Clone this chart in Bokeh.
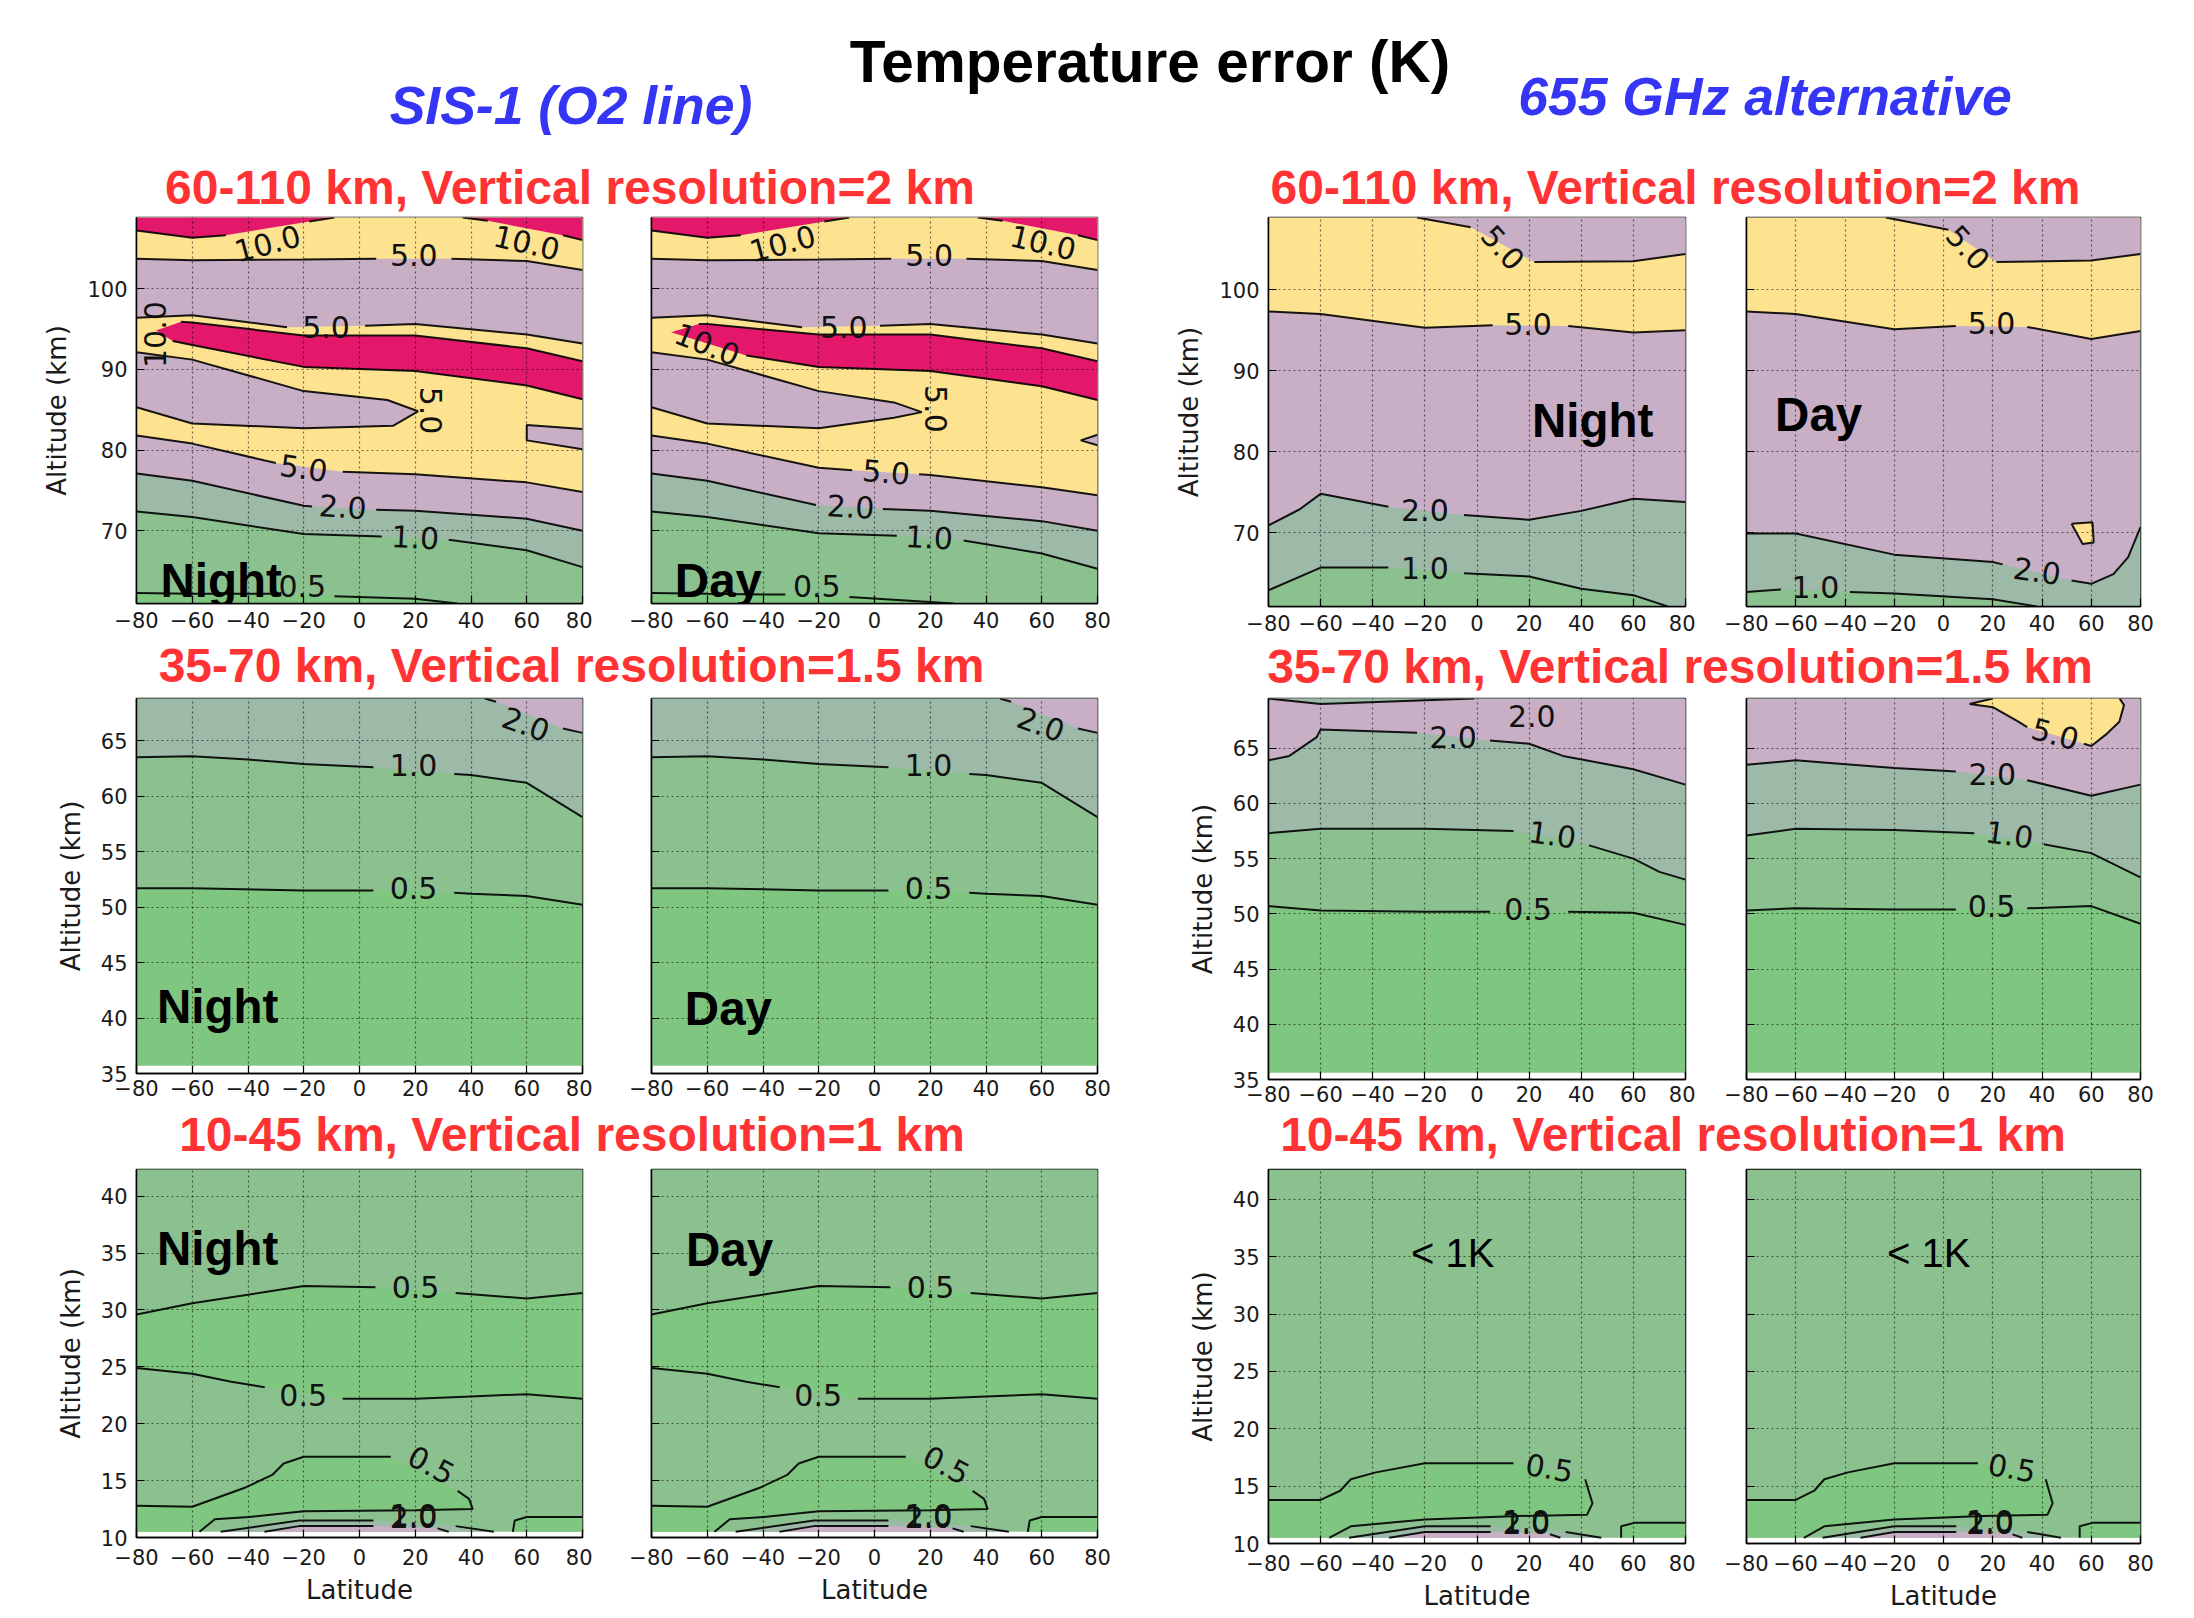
import math
import numpy as np
from bokeh.plotting import figure
from bokeh.layouts import row, column
from bokeh.models import Div, Range1d, FixedTicker
from bokeh.core.properties import value
from bokeh.embed import file_html
from bokeh.resources import INLINE

N = None

# ---------------- band colours (temperature error, K) ----------------
C_LT05 = "#7fc680"   # < 0.5
C_05_1 = "#8bc18f"   # 0.5 - 1
C_1_2 = "#9db9a8"    # 1 - 2
C_2_5 = "#c8afc6"    # 2 - 5
C_5_10 = "#fde38f"   # 5 - 10
C_GT10 = "#e3186a"   # > 10

LAT_TICKS = [-80, -60, -40, -20, 0, 20, 40, 60, 80]
ALT_TICKS_HI = [70, 80, 90, 100]
ALT_TICKS_MID = [35, 40, 45, 50, 55, 60, 65]
ALT_TICKS_LO = [10, 15, 20, 25, 30, 35, 40]

# ---------------- contour lines: (latitudes, altitudes); None = label gap ----------------
# SIS-1, 60-110 km (shared by night & day)
S1_A1 = ([-80, -60, -48, N, -18, -9], [107.2, 106.3, 106.6, N, 108.3, 108.8])
S1_A2 = ([37, 46, N, 73, 80], [108.8, 108.4, N, 106.6, 106.0])
S1_B = ([-80, -60, -20, 6, N, 33, 60, 80], [103.7, 103.5, 103.6, 103.7, N, 103.7, 103.4, 102.3])
S1_C = ([-80, -60, -26, N, 2, 20, 60, 80], [96.4, 96.7, 95.2, N, 95.4, 95.6, 94.3, 93.2])
# SIS-1, 60-110 km, night
S1N_BAND = ([80, 60, 20, -20, -60, -64, N, -73, N, -67, -60, -20, 20, 60, 80],
            [91.0, 92.6, 94.2, 94.2, 95.8, 95.9, N, 94.8, N, 93.5, 93.0, 90.3, 89.8, 88.0, 86.3])
S1N_TONGUE = ([-80, -60, -20, 10, 21, 12, -20, -60, -80], [92.1, 91.2, 87.3, 86.2, 84.8, 83.0, 82.7, 83.3, 85.3])
S1N_WEDGE = ([80, 60, 60, 80], [82.6, 83.1, 81.2, 80.1])
S1N_F = ([-80, -60, -30, N, -6, 20, 60, 80], [81.8, 80.8, 78.4, N, 77.3, 77.0, 76.0, 74.8])
S1N_G = ([-80, -60, -20, -17, N, 6, 20, 60, 80], [77.1, 76.2, 73.1, 73.0, N, 72.6, 72.5, 71.5, 70.0])
S1N_H = ([-80, -60, -20, 8, N, 32, 60, 80], [72.4, 71.7, 69.6, 69.3, N, 68.9, 67.6, 65.5])
S1N_I = ([-80, -60, -32, N, -9, 20, 35], [62.3, 62.2, 62.2, N, 61.9, 61.6, 61.0])
S1N_LABELS = [("10.0", -33, 105.6, 15), ("10.0", 60, 105.7, -13), ("5.0", 19.5, 104.1, 0),
              ("5.0", -12, 95.2, 0), ("10.0", -73.4, 94.3, 90), ("5.0", 25.5, 84.9, -90),
              ("5.0", -20, 77.8, -8), ("2.0", -6, 73.0, -4), ("1.0", 20, 69.2, -3), ("0.5", -20.5, 63.2, 0)]
# SIS-1, 60-110 km, day
S1D_BAND = ([80, 60, 20, -20, -60, -63, N, -73, N, -46, -20, 20, 60, 80],
            [91.0, 92.6, 94.3, 94.3, 95.6, 95.6, N, 94.6, N, 91.7, 90.3, 89.8, 87.9, 86.2])
S1D_TONGUE = ([-80, -60, -20, 7, 17, 7, -20, -60, -80], [92.1, 91.2, 87.3, 85.9, 84.7, 84.0, 82.7, 83.3, 85.3])
S1D_WEDGE = ([80, 74, 80], [81.9, 81.2, 80.6])
S1D_F = ([-80, -60, -20, -8, N, 16, 20, 60, 80], [81.8, 80.8, 77.8, 77.5, N, 77.0, 76.9, 75.4, 74.4])
S1D_G = ([-80, -60, -21, N, 3, 20, 60, 80], [77.1, 76.2, 73.2, N, 72.7, 72.5, 71.2, 70.0])
S1D_H = ([-80, -60, -20, 8, N, 32, 60, 80], [72.4, 71.7, 69.7, 69.4, N, 68.8, 67.2, 65.3])
S1D_I = ([-80, -60, -32, N, -9, 28.5], [62.3, 62.2, 62.1, N, 61.8, 61.0])
S1D_LABELS = [("10.0", -33, 105.6, 15), ("10.0", 60.5, 105.7, -13), ("5.0", 19.6, 104.1, 0),
              ("5.0", -11, 95.2, 0), ("10.0", -60, 93.1, -22), ("5.0", 22, 85.1, -90),
              ("5.0", 4.2, 77.3, -5), ("2.0", -8.6, 73.0, -3), ("1.0", 19.6, 69.2, -3), ("0.5", -20.7, 63.2, 0)]

# 655 GHz, 60-110 km, night
G1N_L1 = ([-80, -60, -34, N, -5, 20, 40, 60, 73.2], [62.9, 65.7, 65.7, N, 65.0, 64.6, 63.1, 62.3, 60.9])
G1N_L2 = ([-80, -68, -60, -34, N, -5, 20, 40, 60, 80], [70.9, 72.9, 74.8, 73.2, N, 72.2, 71.6, 72.7, 74.2, 73.8])
G1N_L3 = ([-80, -60, -20, 6, N, 35, 60, 80], [97.3, 97.0, 95.3, 95.6, N, 95.5, 94.7, 95.0])
G1N_L4 = ([-23, -2.4, N, 22, 60, 80], [108.9, 107.7, N, 103.4, 103.5, 104.4])
G1N_LABELS = [("1.0", -20, 65.7, 0), ("2.0", -20, 72.8, 0), ("5.0", 19.6, 95.8, 0), ("5.0", 10, 105.2, -48)]
# 655 GHz, 60-110 km, day
G1D_L1 = ([-80, -66, N, -38, -20, 20, 38], [62.7, 63.0, N, 62.7, 62.5, 61.8, 60.9])
G1D_L2 = ([-80, -60, -20, 20, 24, N, 52, 60, 69, 75, 80], [69.9, 69.9, 67.3, 66.4, 66.1, N, 64.1, 63.7, 64.9, 67.0, 70.7])
G1D_PATCH = ([52, 60.5, 61, 56.5, 52], [71.1, 71.3, 68.8, 68.6, 71.1])
G1D_L3 = ([-80, -60, -20, 5, N, 34, 60, 80], [97.3, 97.0, 95.1, 95.5, N, 95.4, 93.9, 94.9])
G1D_L4 = ([-23.4, 2, N, 21.5, 60, 80], [108.9, 107.4, N, 103.4, 103.6, 104.4])
G1D_LABELS = [("1.0", -52, 63.3, 0), ("2.0", 38, 65.3, -8), ("5.0", 19.5, 95.9, 0), ("5.0", 10, 105.2, -48)]

# SIS-1, 35-70 km (night & day)
S2_05 = ([-80, -60, -20, 5, N, 34, 40, 60, 80], [51.7, 51.7, 51.5, 51.5, N, 51.3, 51.2, 51.0, 50.2])
S2_10 = ([-80, -60, -40, -20, 5, N, 34, 40, 60, 80], [63.5, 63.6, 63.3, 62.9, 62.6, N, 62.0, 61.9, 61.2, 58.1])
S2_20 = ([45, 49, N, 73, 80], [68.8, 68.5, N, 66.1, 65.7])
S2_LABELS = [("0.5", 19.4, 51.7, 0), ("1.0", 19.4, 62.8, 0), ("2.0", 59.7, 66.5, -20)]

# 655 GHz, 35-70 km, night
G2N_05 = ([-80, -60, -20, 5, N, 35, 60, 80], [50.7, 50.3, 50.2, 50.2, N, 50.2, 50.1, 49.0])
G2N_10 = ([-80, -60, -20, 14, N, 43, 60, 70, 80], [57.3, 57.7, 57.7, 57.5, N, 56.2, 55.0, 53.8, 53.1])
G2N_20 = ([-80, -72, -61.5, -60, -23, N, 5, 20, 33, 60, 80], [63.9, 64.3, 66.0, 66.7, 66.4, N, 65.7, 65.4, 64.3, 63.1, 61.7])
G2N_TOP = ([-80, -60, -1], [69.5, 69.0, 69.5])
G2N_LABELS = [("0.5", 19.6, 50.4, 0), ("1.0", 28.9, 57.2, -8), ("2.0", -9.2, 66.0, 0), ("2.0", 21, 67.9, 0)]
# 655 GHz, 35-70 km, day
G2D_05 = ([-80, -60, -20, 5, N, 34, 60, 80], [50.3, 50.5, 50.4, 50.4, N, 50.5, 50.7, 49.1])
G2D_10 = ([-80, -60, -20, 12.5, N, 40.7, 60, 80], [57.1, 57.7, 57.6, 57.3, N, 56.3, 55.5, 53.3])
G2D_20 = ([-80, -60, -20, 5, N, 34, 60, 80], [63.5, 63.9, 63.2, 62.9, N, 62.1, 60.7, 61.7])
G2D_BLOB = ([20, 10.6, 20.2, 30.4, 34, N, 57, 60, 66.3, 71.4, 73.3, 71.5],
            [69.5, 69.0, 68.7, 67.4, 66.9, N, 65.4, 65.2, 66.3, 67.4, 68.9, 69.5])
G2D_LABELS = [("0.5", 19.5, 50.7, 0), ("1.0", 26.8, 57.2, -8), ("2.0", 19.8, 62.7, 0), ("5.0", 45.4, 66.3, -15)]

# SIS-1, 10-45 km (night & day)
S3_U05 = ([-80, -60, -20, 5.7, N, 34.5, 60, 80], [29.6, 30.6, 32.1, 32.0, N, 31.5, 31.0, 31.5])
S3_M05 = ([-80, -60, -46, -34, N, -6, 20, 40, 60, 80], [24.9, 24.4, 23.7, 23.2, N, 22.2, 22.2, 22.4, 22.6, 22.2])
S3_L05 = ([-80, -60, -40.9, -31.3, -27.2, -20, 11.2, N, 35.2, 39.3, 40.6, 20, -20, -39.6, -51.9, -57.4],
          [12.8, 12.7, 14.4, 15.5, 16.5, 17.1, 17.1, N, 14.1, 13.4, 12.5, 12.4, 12.3, 11.8, 11.6, 10.5])
S3_R05 = ([55, 55.7, 60, 80], [10.5, 11.5, 11.8, 11.8])
S3_10 = ([-49.8, -21.7, 5, N, 34.5, 48.2], [10.5, 11.5, 11.5, N, 11.0, 10.5])
S3_20 = ([-34.1, -21.7, 5, N, 28, 32], [10.5, 11.0, 11.0, N, 10.8, 10.5])
S3_LABELS = [("0.5", 20.1, 32.0, 0), ("0.5", -20.2, 22.5, 0), ("0.5", 25.8, 16.4, -28),
             ("1.0", 19.4, 12.0, 0), ("2.0", 19.4, 11.8, 0)]

# 655 GHz, 10-45 km (night & day)
G3_L05 = ([-80, -60, -52.5, -48.4, -38.8, -20, 14, N, 41.5, 44.3, 42.2, 16, -20, -48.4, -56.7],
          [13.8, 13.8, 14.6, 15.6, 16.2, 17.0, 17.0, N, 15.6, 13.5, 12.5, 12.4, 12.1, 11.5, 10.5])
G3_R05 = ([55.3, 55.3, 60.4, 80], [10.5, 11.5, 11.8, 11.8])
G3_10 = ([-49.1, -20, 5.2, N, 34, 47.7], [10.5, 11.5, 11.5, N, 11.0, 10.5])
G3_20 = ([-33.7, -20, 5.2, N, 28, 32], [10.5, 11.0, 11.0, N, 10.8, 10.5])
G3_LABELS = [("0.5", 27.8, 16.6, -10), ("1.0", 18.9, 12.0, 0), ("2.0", 18.9, 11.8, 0)]

# ---------------- panel assembly ----------------
S1_FILLS_N = [(C_LT05, S1N_I, "down", []), (C_1_2, S1N_H, "up", []), (C_2_5, S1N_G, "up", []),
              (C_5_10, S1N_F, "up", []), (C_2_5, S1N_WEDGE, "closed", []), (C_2_5, S1N_TONGUE, "closed", []),
              (C_GT10, S1N_BAND, "closed", []), (C_2_5, S1_C, "up", []), (C_5_10, S1_B, "up", []),
              (C_GT10, S1_A1, "up", []), (C_GT10, S1_A2, "up", [])]
S1_FILLS_D = [(C_LT05, S1D_I, "down", []), (C_1_2, S1D_H, "up", []), (C_2_5, S1D_G, "up", []),
              (C_5_10, S1D_F, "up", []), (C_2_5, S1D_WEDGE, "closed", []), (C_2_5, S1D_TONGUE, "closed", []),
              (C_GT10, S1D_BAND, "closed", []), (C_2_5, S1_C, "up", []), (C_5_10, S1_B, "up", []),
              (C_GT10, S1_A1, "up", []), (C_GT10, S1_A2, "up", [])]
G1_FILLS_N = [(C_1_2, G1N_L1, "up", [(80, 60.9)]), (C_2_5, G1N_L2, "up", []),
              (C_5_10, G1N_L3, "up", []), (C_2_5, G1N_L4, "up", [])]
G1_FILLS_D = [(C_1_2, G1D_L1, "up", [(80, 60.9)]), (C_2_5, G1D_L2, "up", []), (C_5_10, G1D_PATCH, "closed", []),
              (C_5_10, G1D_L3, "up", []), (C_2_5, G1D_L4, "up", [])]
S2_FILLS = [(C_05_1, S2_05, "up", []), (C_1_2, S2_10, "up", []), (C_2_5, S2_20, "up", [])]
G2_FILLS_N = [(C_05_1, G2N_05, "up", []), (C_1_2, G2N_10, "up", []), (C_2_5, G2N_20, "up", []),
              (C_1_2, G2N_TOP, "closed", [])]
G2_FILLS_D = [(C_05_1, G2D_05, "up", []), (C_1_2, G2D_10, "up", []), (C_2_5, G2D_20, "up", []),
              (C_5_10, G2D_BLOB, "closed", [])]
S3_FILLS = [(C_LT05, S3_M05, "up", []), (C_05_1, S3_U05, "up", []), (C_LT05, S3_L05, "closed", [(-80, 10.5)]),
            (C_LT05, S3_R05, "closed", [(80, 10.5)]), (C_1_2, S3_10, "closed", []), (C_2_5, S3_20, "closed", [])]
G3_FILLS = [(C_LT05, G3_L05, "closed", [(-80, 10.5)]), (C_LT05, G3_R05, "closed", [(80, 10.5)]),
            (C_1_2, G3_10, "closed", []), (C_2_5, G3_20, "closed", [])]

# geometry: frame_w, frame_h, border left, right, top, bottom, x-label standoff
GEO = {
    "r1": [(446, 386, 128, 10, 1, 36, 8), (446, 386, 59, 20, 1, 36, 8),
           (417, 389, 151, 10, 1, 33, 8), (394, 389, 51, 38, 1, 33, 8)],
    "r2": [(446, 375, 128, 10, 3, 35, 6), (446, 375, 59, 20, 3, 35, 6),
           (417, 381, 151, 10, 1, 31, 6), (394, 381, 51, 38, 1, 31, 6)],
    "r3": [(446, 368, 128, 10, 7, 74, 11), (446, 368, 59, 20, 7, 74, 11),
           (417, 374, 151, 10, 1, 74, 11), (394, 374, 51, 38, 1, 74, 11)],
}

PANELS = {
    "r1": [
        dict(yr=(61.0, 108.8), bot=61.0, base=C_05_1, fills=S1_FILLS_N, labels=S1N_LABELS,
             note=("Night", -49.6, 63.9, True), yt=ALT_TICKS_HI, ylab=True, xlab=False),
        dict(yr=(61.0, 108.8), bot=61.0, base=C_05_1, fills=S1_FILLS_D, labels=S1D_LABELS,
             note=("Day", -56, 63.9, True), yt=ALT_TICKS_HI, ylab=False, xlab=False),
        dict(yr=(60.9, 108.9), bot=60.9, base=C_05_1, fills=G1_FILLS_N, labels=G1N_LABELS,
             note=("Night", 44.4, 83.9, True), yt=ALT_TICKS_HI, ylab=True, xlab=False),
        dict(yr=(60.9, 108.9), bot=60.9, base=C_05_1, fills=G1_FILLS_D, labels=G1D_LABELS,
             note=("Day", -50.7, 84.6, True), yt=ALT_TICKS_HI, ylab=False, xlab=False),
    ],
    "r2": [
        dict(yr=(35.0, 68.8), bot=35.7, base=C_LT05, fills=S2_FILLS, labels=S2_LABELS,
             note=("Night", -50.9, 41.0, True), yt=ALT_TICKS_MID, ylab=True, xlab=False),
        dict(yr=(35.0, 68.8), bot=35.7, base=C_LT05, fills=S2_FILLS, labels=S2_LABELS,
             note=("Day", -52.4, 40.9, True), yt=ALT_TICKS_MID, ylab=False, xlab=False),
        dict(yr=(35.0, 69.5), bot=35.6, base=C_LT05, fills=G2_FILLS_N, labels=G2N_LABELS,
             note=None, yt=ALT_TICKS_MID, ylab=True, xlab=False),
        dict(yr=(35.0, 69.5), bot=35.6, base=C_LT05, fills=G2_FILLS_D, labels=G2D_LABELS,
             note=None, yt=ALT_TICKS_MID, ylab=False, xlab=False),
    ],
    "r3": [
        dict(yr=(10.0, 42.35), bot=10.5, base=C_05_1, fills=S3_FILLS, labels=S3_LABELS,
             note=("Night", -50.9, 35.4, True), yt=ALT_TICKS_LO, ylab=True, xlab=True),
        dict(yr=(10.0, 42.35), bot=10.5, base=C_05_1, fills=S3_FILLS, labels=S3_LABELS,
             note=("Day", -52, 35.3, True), yt=ALT_TICKS_LO, ylab=False, xlab=True),
        dict(yr=(10.0, 42.6), bot=10.5, base=C_05_1, fills=G3_FILLS, labels=G3_LABELS,
             note=("< 1K", -9.3, 35.3, False), yt=ALT_TICKS_LO, ylab=True, xlab=True),
        dict(yr=(10.0, 42.6), bot=10.5, base=C_05_1, fills=G3_FILLS, labels=G3_LABELS,
             note=("< 1K", -6, 35.35, False), yt=ALT_TICKS_LO, ylab=False, xlab=True),
    ],
}


def make_panel(spec, geom):
    fw, fh, bl, br, bt, bb, xso = geom
    lo, hi = spec["yr"]
    p = figure(width=bl + fw + br, height=bt + fh + bb, frame_width=fw, frame_height=fh,
               min_border_left=bl, min_border_right=br, min_border_top=bt, min_border_bottom=bb,
               x_range=Range1d(-80, 80), y_range=Range1d(lo, hi),
               output_backend="svg", toolbar_location=None, tools="")
    p.background_fill_color = "white"
    p.border_fill_color = "white"
    p.outline_line_color = "black"
    p.outline_line_width = 1.5
    bot = spec["bot"]
    p.patch([-80, 80, 80, -80], [bot, bot, hi, hi], fill_color=spec["base"], line_color=None)
    for color, ln, mode, pre in spec["fills"]:
        xs = [x for x in ln[0] if x is not None] + [q[0] for q in pre]
        ys = [y for y in ln[1] if y is not None] + [q[1] for q in pre]
        if mode == "up":
            xs += [xs[-1], xs[0]]
            ys += [hi, hi]
        elif mode == "down":
            xs += [xs[-1], xs[0]]
            ys += [bot, bot]
        p.patch(xs, ys, fill_color=color, line_color=None)
    for color, ln, mode, pre in spec["fills"]:
        p.line(np.array(ln[0], dtype=float), np.array(ln[1], dtype=float),
               line_color="black", line_width=2, line_alpha=0.9)
    if spec["labels"]:
        t, x, y, a = zip(*spec["labels"])
        p.text(x=list(x), y=list(y), text=list(t), angle=[float(np.deg2rad(v)) for v in a],
               text_align="center", text_baseline="middle", text_font=value("DejaVu Sans"),
               text_font_size="30px", text_color="#111111")
    if spec["note"]:
        nt, nx, ny, bold = spec["note"]
        p.text(x=[nx], y=[ny], text=[nt], text_align="center", text_baseline="alphabetic",
               text_font=value("Liberation Sans"), text_font_style="bold" if bold else "normal",
               text_font_size="47.5px" if bold else "40px", text_color="black")

    p.xaxis.ticker = FixedTicker(ticks=LAT_TICKS)
    p.xgrid.ticker = FixedTicker(ticks=LAT_TICKS)
    p.yaxis.ticker = FixedTicker(ticks=spec["yt"])
    p.ygrid.ticker = FixedTicker(ticks=spec["yt"])
    p.xaxis.major_label_overrides = {t: ("\u2212%d" % (-t) if t < 0 else str(t)) for t in LAT_TICKS}
    for ax in (p.xaxis[0], p.yaxis[0]):
        ax.major_tick_in = 8
        ax.major_tick_out = 0
        ax.minor_tick_line_color = None
        ax.major_tick_line_color = "black"
        ax.major_tick_line_width = 1.2
        ax.axis_line_color = "black"
        ax.axis_line_width = 1.5
        ax.major_label_text_font = "DejaVu Sans"
        ax.major_label_text_font_size = "21px"
        ax.major_label_text_color = "#1a1a1a"
    p.xaxis.major_label_standoff = xso
    p.yaxis.major_label_standoff = 9
    if spec["ylab"]:
        p.yaxis.axis_label = "Altitude (km)"
        p.yaxis.axis_label_text_font = "DejaVu Sans"
        p.yaxis.axis_label_text_font_size = "26px"
        p.yaxis.axis_label_text_font_style = "normal"
        p.yaxis.axis_label_text_color = "#1a1a1a"
        p.yaxis.axis_label_standoff = 12
    else:
        p.yaxis.major_label_text_font_size = "0px"
        p.yaxis.major_label_text_color = None
    if spec["xlab"]:
        p.xaxis.axis_label = "Latitude"
        p.xaxis.axis_label_text_font = "DejaVu Sans"
        p.xaxis.axis_label_text_font_size = "26px"
        p.xaxis.axis_label_text_font_style = "normal"
        p.xaxis.axis_label_text_color = "#1a1a1a"
        p.xaxis.axis_label_standoff = 7
    p.grid.grid_line_color = "black"
    p.grid.grid_line_alpha = 0.55
    p.grid.grid_line_dash = "2 3"
    p.grid.grid_line_width = 1.2
    p.grid.level = "overlay"
    return p


# ---------------- titles (HTML blocks) ----------------
RED = "#ff3333"
BLUE = "#3535f5"
FONT = "'Liberation Sans', Arial, sans-serif"
TOTAL_W = 2170


def txt(s, cx, baseline, size, color, italic=False, w=900):
    lh = math.ceil(1.117 * size)
    top = baseline - ((lh - 1.117 * size) / 2 + 0.905 * size)
    return ('<div style="position:absolute;left:%.1fpx;top:%.1fpx;width:%dpx;height:%dpx;text-align:center;'
            'font-family:%s;font-size:%.1fpx;line-height:%dpx;font-weight:bold;font-style:%s;'
            'color:%s;white-space:nowrap;">%s</div>'
            % (cx - w / 2, max(top, 0.0), w, lh, FONT, size, lh, "italic" if italic else "normal", color, s))


def block(h, parts):
    html = '<div style="position:relative;width:%dpx;height:%dpx;">%s</div>' % (TOTAL_W, h, "".join(parts))
    return Div(text=html, width=TOTAL_W, height=h, margin=(0, 0, 0, 0))


# baselines are given relative to the top of each block
header = block(208, [
    txt("Temperature error (K)", 1142, 74.7, 58.5, "black", w=1000),
    txt("SIS-1 (O2 line)", 563, 116, 53.5, BLUE, italic=True, w=800),
    txt("655 GHz alternative", 1757, 107, 53.5, BLUE, italic=True, w=800),
    txt("60-110 km, Vertical resolution=2 km", 562, 197, 48, RED),
    txt("60-110 km, Vertical resolution=2 km", 1667.5, 197, 48, RED),
])
sub2 = block(56, [
    txt("35-70 km, Vertical resolution=1.5 km", 563.5, 43.7, 48, RED),
    txt("35-70 km, Vertical resolution=1.5 km", 1672, 45.0, 48, RED),
])
sub3 = block(54, [
    txt("10-45 km, Vertical resolution=1 km", 564, 43.6, 48, RED),
    txt("10-45 km, Vertical resolution=1 km", 1665, 43.6, 48, RED),
])

rows = {}
for key in ("r1", "r2", "r3"):
    figs = [make_panel(spec, geom) for spec, geom in zip(PANELS[key], GEO[key])]
    rows[key] = row(*figs, spacing=0)

layout = column(header, rows["r1"], sub2, rows["r2"], sub3, rows["r3"], spacing=0, margin=(8, 0, 0, 8))

with open("out.html", "w") as f:
    f.write(file_html(layout, INLINE, title="Temperature error (K)"))
